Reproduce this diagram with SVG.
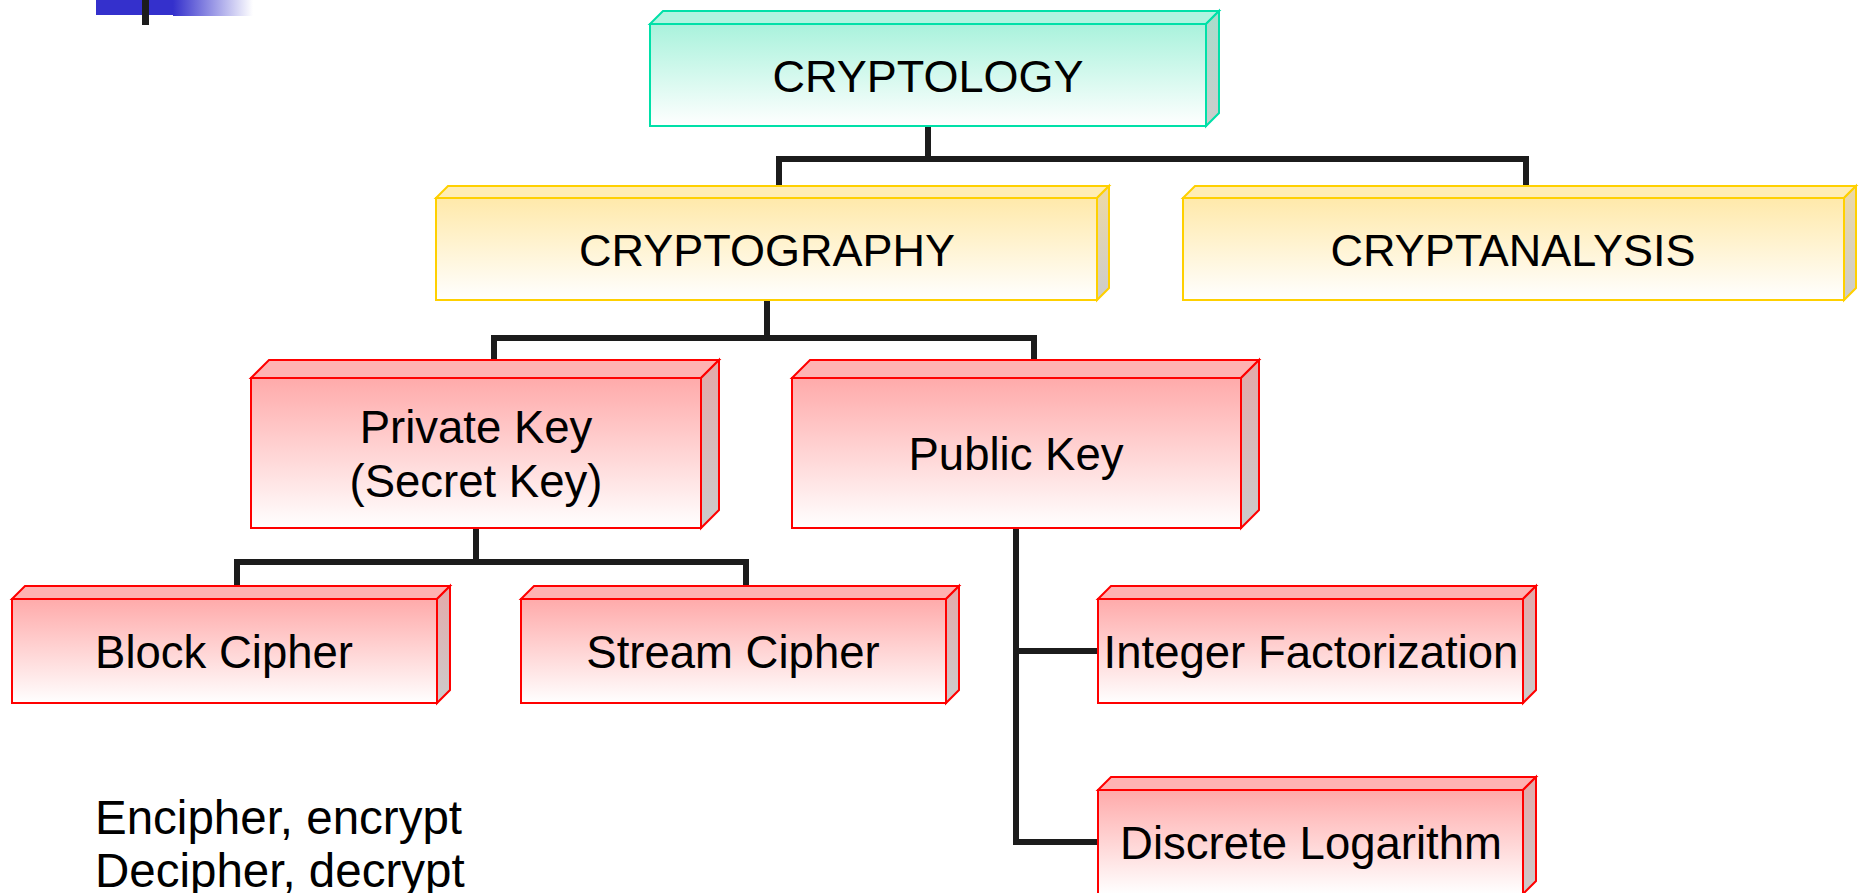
<svg xmlns="http://www.w3.org/2000/svg" width="1860" height="893" viewBox="0 0 1860 893">
<defs>
<linearGradient id="gFrontG" x1="0" y1="0" x2="0" y2="1"><stop offset="0" stop-color="#A9F2DC"/><stop offset="1" stop-color="#FFFFFF"/></linearGradient>
<linearGradient id="gSideG" x1="0" y1="0" x2="0" y2="1"><stop offset="0" stop-color="#A8DCCB"/><stop offset="1" stop-color="#CCCCCC"/></linearGradient>
<linearGradient id="gFrontY" x1="0" y1="0" x2="0" y2="1"><stop offset="0" stop-color="#FFE9AA"/><stop offset="1" stop-color="#FFFFFF"/></linearGradient>
<linearGradient id="gSideY" x1="0" y1="0" x2="0" y2="1"><stop offset="0" stop-color="#EDD9A5"/><stop offset="1" stop-color="#CCCCCC"/></linearGradient>
<linearGradient id="gFrontR" x1="0" y1="0" x2="0" y2="1"><stop offset="0" stop-color="#FFAAAA"/><stop offset="1" stop-color="#FFFFFF"/></linearGradient>
<linearGradient id="gSideR" x1="0" y1="0" x2="0" y2="1"><stop offset="0" stop-color="#E3A9A9"/><stop offset="1" stop-color="#CCCCCC"/></linearGradient>
<linearGradient id="gBlue" x1="0" y1="0" x2="1" y2="0"><stop offset="0" stop-color="#3430CC"/><stop offset="1" stop-color="#FFFFFF"/></linearGradient>
</defs>
<style>
.g{stroke:#00E0A8;stroke-width:2}
.y{stroke:#FFD000;stroke-width:2}
.r{stroke:#FF0000;stroke-width:2}
.gt{fill:#B0F4E0}.yt{fill:#FFEDB5}.rt{fill:#FFB2B2}
.t{font-family:"Liberation Sans",Arial,sans-serif;font-size:45.5px;fill:#000;text-anchor:middle}
.c{font-size:45px}
.n{font-family:"Liberation Sans",Arial,sans-serif;font-size:47.5px;fill:#000}
.conn{fill:none;stroke:#1C1C1C;stroke-width:6}
</style>
<rect x="0" y="0" width="1860" height="893" fill="#FFFFFF"/>
<g id="header">
<rect x="96" y="0" width="78" height="15" fill="#3430CC"/>
<rect x="173" y="0" width="80" height="16" fill="url(#gBlue)"/>
<rect x="142" y="0" width="7" height="25" fill="#1C1C1C"/>
</g>
<g id="connectors" class="conn">
<path d="M928 126 V159 M779 186 V159 H1526 V186"/>
<path d="M767 300 V338 M494 360 V338 H1034 V360"/>
<path d="M476 528 V562 M237 586 V562 H746 V586"/>
<path d="M1016 528 V842 H1098 M1016 651 H1098"/>
</g>
<g id="cryptology">
<polygon class="g gt" points="650,24 663,11 1219,11 1206,24"/>
<polygon class="g" fill="url(#gSideG)" points="1206,24 1219,11 1219,113 1206,126"/>
<rect class="g" fill="url(#gFrontG)" x="650" y="24" width="556" height="102"/>
<text class="t c" x="928" y="92">CRYPTOLOGY</text>
</g>
<g id="cryptography">
<polygon class="y yt" points="436,198 448,186 1109,186 1097,198"/>
<polygon class="y" fill="url(#gSideY)" points="1097,198 1109,186 1109,288 1097,300"/>
<rect class="y" fill="url(#gFrontY)" x="436" y="198" width="661" height="102"/>
<text class="t c" x="767" y="266">CRYPTOGRAPHY</text>
</g>
<g id="cryptanalysis">
<polygon class="y yt" points="1183,198 1195,186 1856,186 1844,198"/>
<polygon class="y" fill="url(#gSideY)" points="1844,198 1856,186 1856,288 1844,300"/>
<rect class="y" fill="url(#gFrontY)" x="1183" y="198" width="661" height="102"/>
<text class="t c" x="1513" y="266">CRYPTANALYSIS</text>
</g>
<g id="private-key">
<polygon class="r rt" points="251,378 269,360 719,360 701,378"/>
<polygon class="r" fill="url(#gSideR)" points="701,378 719,360 719,510 701,528"/>
<rect class="r" fill="url(#gFrontR)" x="251" y="378" width="450" height="150"/>
<text class="t" x="476" y="443">Private Key</text>
<text class="t" x="476" y="497">(Secret Key)</text>
</g>
<g id="public-key">
<polygon class="r rt" points="792,378 810,360 1259,360 1241,378"/>
<polygon class="r" fill="url(#gSideR)" points="1241,378 1259,360 1259,510 1241,528"/>
<rect class="r" fill="url(#gFrontR)" x="792" y="378" width="449" height="150"/>
<text class="t" x="1016" y="470">Public Key</text>
</g>
<g id="block-cipher">
<polygon class="r rt" points="12,599 25,586 450,586 437,599"/>
<polygon class="r" fill="url(#gSideR)" points="437,599 450,586 450,690 437,703"/>
<rect class="r" fill="url(#gFrontR)" x="12" y="599" width="425" height="104"/>
<text class="t" x="224" y="668">Block Cipher</text>
</g>
<g id="stream-cipher">
<polygon class="r rt" points="521,599 534,586 959,586 946,599"/>
<polygon class="r" fill="url(#gSideR)" points="946,599 959,586 959,690 946,703"/>
<rect class="r" fill="url(#gFrontR)" x="521" y="599" width="425" height="104"/>
<text class="t" x="733" y="668">Stream Cipher</text>
</g>
<g id="integer-factorization">
<polygon class="r rt" points="1098,599 1111,586 1536,586 1523,599"/>
<polygon class="r" fill="url(#gSideR)" points="1523,599 1536,586 1536,690 1523,703"/>
<rect class="r" fill="url(#gFrontR)" x="1098" y="599" width="425" height="104"/>
<text class="t" x="1311" y="668">Integer Factorization</text>
</g>
<g id="discrete-logarithm">
<polygon class="r rt" points="1098,790 1111,777 1536,777 1523,790"/>
<polygon class="r" fill="url(#gSideR)" points="1523,790 1536,777 1536,881 1523,894"/>
<rect class="r" fill="url(#gFrontR)" x="1098" y="790" width="425" height="104"/>
<text class="t" x="1311" y="859">Discrete Logarithm</text>
</g>
<g id="notes">
<text class="n" x="95" y="834">Encipher, encrypt</text>
<text class="n" x="95" y="887">Decipher, decrypt</text>
</g>
</svg>
